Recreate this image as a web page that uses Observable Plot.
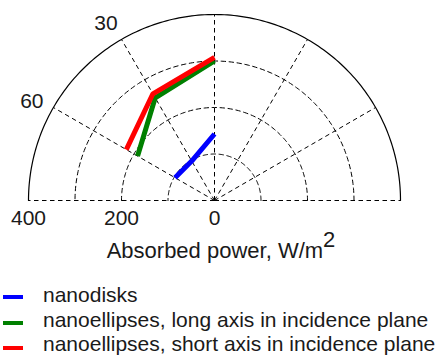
<!DOCTYPE html>
<html>
<head>
<meta charset="utf-8">
<script src="https://cdn.jsdelivr.net/npm/d3@7"></script>
<script src="https://cdn.jsdelivr.net/npm/@observablehq/plot@0.6"></script>
<style>
  html, body { margin: 0; padding: 0; background: #fff; }
  #fig { position: relative; width: 444px; height: 355px; overflow: hidden; font-family: "Liberation Sans", Arial, sans-serif; color: #1a1a1a; }
  #fig svg { position: absolute; left: 0; top: 0; }
  .title { position: absolute; left: -1px; width: 444px; text-align: center; font-size: 22px; line-height: 22px; white-space: nowrap; }
  .title .sup { position: relative; top: -11px; }
  .row { position: absolute; left: 0; height: 21px; font-size: 21px; line-height: 21px; white-space: nowrap; }
  .sw { position: absolute; left: 3px; width: 20px; height: 4px; }
  .lab { position: absolute; left: 43px; top: 0; }
</style>
</head>
<body>
<div id="fig"></div>
<script>
// ---- data ----
const incidenceAngles = [0, 30, 60];               // degrees
const nanodisks       = [143, 98, 98];             // W/m^2
const longAxisPlane   = [300, 255, 191];           // W/m^2
const shortAxisPlane  = [308, 265, 219];           // W/m^2
const seriesNames  = ["nanodisks", "nanoellipses, long axis in incidence plane", "nanoellipses, short axis in incidence plane"];
const seriesColors = ["#0000ff", "#008000", "#ff0000"];
const ringValues   = [100, 200, 300];
const outerRadius  = 400;
const spokeAngles  = [-90, -60, -30, 0, 30, 60, 90];
const angleTicks   = [30, 60];
const radiusTicks  = [400, 200, 0];

// polar -> cartesian (angle measured from vertical, positive to the left)
const rad = d => d * Math.PI / 180;
const px = (r, t) => -r * Math.sin(rad(t));
const py = (r, t) => r * Math.cos(rad(t));

const seriesVals = [nanodisks, longAxisPlane, shortAxisPlane];
const pts = [];
seriesVals.forEach((vals, i) => {
  vals.forEach((r, j) => pts.push({series: seriesNames[i], r, t: incidenceAngles[j]}));
});

const arcAngles = d3.range(-90, 90.01, 1);
const ringPts = ringValues.flatMap(r => arcAngles.map(t => ({r, t})));
const outerPts = arcAngles.map(t => ({r: outerRadius, t}));

const dash = "4.5,3.5";
const chart = Plot.plot({
  width: 444,
  height: 232,
  marginLeft: 28,
  marginRight: 44,
  marginTop: 14,
  marginBottom: 32,
  x: {domain: [-outerRadius, outerRadius], axis: null},
  y: {domain: [0, outerRadius], axis: null},
  color: {domain: seriesNames, range: seriesColors},
  style: {fontFamily: "'Liberation Sans', Arial, sans-serif", background: "white", overflow: "visible"},
  marks: [
    Plot.line(ringPts, {x: d => px(d.r, d.t), y: d => py(d.r, d.t), z: "r", stroke: "black", strokeWidth: 1, strokeDasharray: dash}),
    Plot.link(spokeAngles, {x1: 0, y1: 0, x2: t => px(outerRadius, t), y2: t => py(outerRadius, t), stroke: "black", strokeWidth: 1, strokeDasharray: dash}),
    Plot.line(outerPts, {x: d => px(d.r, d.t), y: d => py(d.r, d.t), stroke: "black", strokeWidth: 1.2}),
    Plot.line(pts, {x: d => px(d.r, d.t), y: d => py(d.r, d.t), z: "series", stroke: "series", strokeWidth: 5, strokeLinecap: "butt", strokeLinejoin: "miter"}),
    Plot.text(radiusTicks, {x: d => -d, y: 0, text: d => String(d), dy: 18, fontSize: 21, fill: "#1a1a1a"}),
    Plot.text(angleTicks, {x: t => px(447, t + 1.5), y: t => py(447, t + 1.5), text: d => String(d), fontSize: 21, fill: "#1a1a1a"})
  ]
});
const fig = document.getElementById("fig");
fig.appendChild(chart);

const title = document.createElement("div");
title.className = "title";
title.style.top = "239.5px";
title.innerHTML = 'Absorbed power, W/m<span class="sup">2</span>';
fig.appendChild(title);

const rowTops = [283.5, 309, 332.5];
seriesNames.forEach((name, i) => {
  const row = document.createElement("div");
  row.className = "row";
  row.style.top = rowTops[i] + "px";
  const sw = document.createElement("div");
  sw.className = "sw";
  sw.style.background = seriesColors[i];
  sw.style.top = (i === 2 ? 13 : 11.5) + "px";
  const lab = document.createElement("div");
  lab.className = "lab";
  lab.textContent = name;
  row.appendChild(sw);
  row.appendChild(lab);
  fig.appendChild(row);
});
</script>
</body>
</html>
